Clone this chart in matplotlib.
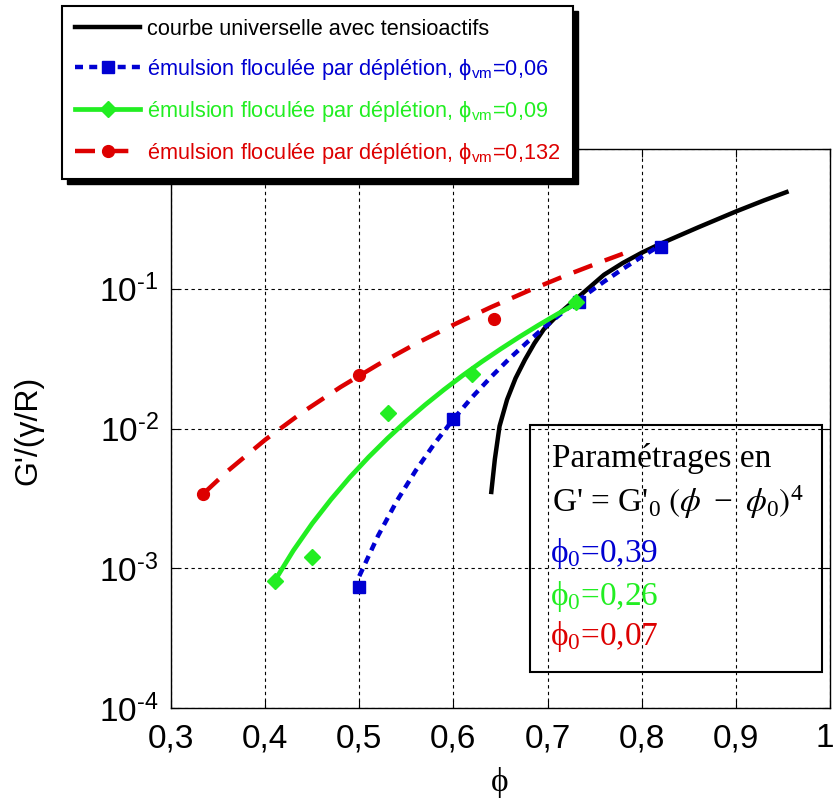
import matplotlib
matplotlib.use("Agg")
import matplotlib.pyplot as plt
import matplotlib.transforms as mtransforms
from matplotlib.lines import Line2D
from matplotlib.patches import Rectangle

plt.rcParams['font.family'] = ['Liberation Sans', 'DejaVu Sans']
plt.rcParams['mathtext.fontset'] = 'stix'
plt.rcParams['mathtext.default'] = 'regular'

# ---------------- data ----------------
univ_x = [0.640, 0.644, 0.649, 0.657, 0.666, 0.676, 0.686, 0.696, 0.712, 0.730,
          0.760, 0.780, 0.800, 0.820, 0.860, 0.900, 0.930, 0.956]
univ_y = [0.00339, 0.00603, 0.0104, 0.0161, 0.0229, 0.0311, 0.0407, 0.0513, 0.0661,
          0.0841, 0.126, 0.153, 0.181, 0.210, 0.275, 0.357, 0.429, 0.498]

blue_pts_x = [0.50, 0.60, 0.733, 0.82]
blue_pts_y = [7.3e-4, 0.0117, 0.080, 0.200]
blue_fit_x = [0.50, 0.52, 0.54, 0.56, 0.58, 0.60, 0.62, 0.64, 0.66, 0.68, 0.70,
              0.72, 0.74, 0.76, 0.78, 0.80, 0.82]
blue_fit_y = [8.78e-4, 1.71e-3, 3.04e-3, 5.01e-3, 7.82e-3, 1.167e-2, 1.68e-2, 2.34e-2,
              3.19e-2, 4.24e-2, 5.54e-2, 7.12e-2, 9.00e-2, 0.1125, 0.1388, 0.1695, 0.205]

green_pts_x = [0.41, 0.45, 0.53, 0.62, 0.73]
green_pts_y = [8.1e-4, 1.21e-3, 0.0129, 0.0247, 0.081]
green_fit_x = [0.41, 0.43, 0.45, 0.47, 0.49, 0.51, 0.53, 0.55, 0.57, 0.59, 0.61,
               0.63, 0.65, 0.67, 0.69, 0.71, 0.73]
green_fit_y = [8.1e-4, 1.34e-3, 2.09e-3, 3.11e-3, 4.48e-3, 6.25e-3, 8.50e-3, 1.132e-2,
               1.478e-2, 1.897e-2, 2.401e-2, 3.00e-2, 3.70e-2, 4.52e-2, 5.47e-2,
               6.56e-2, 7.81e-2]

red_pts_x = [0.334, 0.50, 0.643]
red_pts_y = [3.4e-3, 0.024, 0.061]
red_fit_x = [0.335, 0.36, 0.40, 0.44, 0.48, 0.52, 0.56, 0.60, 0.64, 0.68, 0.72, 0.76, 0.78]
red_fit_y = [3.45e-3, 4.95e-3, 8.30e-3, 1.312e-2, 1.978e-2, 2.87e-2, 4.04e-2, 5.52e-2,
             7.39e-2, 9.69e-2, 0.125, 0.1587, 0.178]

x_ticks = [0.3, 0.4, 0.5, 0.6, 0.7, 0.8, 0.9, 1.0]
x_tick_labels = ['0,3', '0,4', '0,5', '0,6', '0,7', '0,8', '0,9', '1']
y_ticks = [1e-4, 1e-3, 1e-2, 1e-1, 1e0]
# the 10^0 label sits hidden under the legend in the reference
y_tick_labels = ['$\\mathregular{10^{\u2010' + e + '}}$' for e in ['4', '3', '2', '1']] + ['']

labels = ['courbe universelle avec tensioactifs',
          'émulsion floculée par déplétion, ϕ$_{\\mathregular{vm}}$=0,06',
          'émulsion floculée par déplétion, ϕ$_{\\mathregular{vm}}$=0,09',
          'émulsion floculée par déplétion, ϕ$_{\\mathregular{vm}}$=0,132']
phi0_labels = ['ϕ$_0$=0,39', 'ϕ$_0$=0,26', 'ϕ$_0$=0,07']

BLUE = '#0000D2'
GREEN = '#22EE22'
RED = '#DD0000'

# ---------------- figure ----------------
W, H = 837, 807
fig = plt.figure(figsize=(W / 100, H / 100), dpi=100)
ax = fig.add_axes([171 / W, 1 - 708 / H, (830 - 171) / W, (708 - 149) / H])
ax.set_yscale('log')
ax.set_xlim(0.3, 1.0)
ax.set_ylim(1e-4, 1e0)

ax.plot(univ_x, univ_y, color='black', lw=3.2, solid_capstyle='butt',
        solid_joinstyle='round', zorder=3)
ax.plot(blue_fit_x, blue_fit_y, color=BLUE, lw=3.2, ls=(0, (1.8, 1.4)), zorder=4)
ax.plot(blue_pts_x, blue_pts_y, ls='none', marker='s', ms=8.5, color=BLUE, zorder=4)
ax.plot(green_fit_x, green_fit_y, color=GREEN, lw=3.4, zorder=5)
ax.plot(green_pts_x, green_pts_y, ls='none', marker='D', ms=8, color=GREEN, zorder=5)
ax.plot(red_fit_x, red_fit_y, color=RED, lw=3.2, ls=(0, (4.5, 3)), zorder=6)
ax.plot(red_pts_x, red_pts_y, ls='none', marker='o', ms=8.5, color=RED, zorder=6)

ax.set_xticks(x_ticks)
ax.set_xticklabels(x_tick_labels)
ax.set_yticks(y_ticks)
ax.set_yticklabels(y_tick_labels)
ax.yaxis.set_minor_locator(matplotlib.ticker.NullLocator())
ax.tick_params(direction='in', length=6, width=0.8, top=True, right=True,
               labelsize=24, pad=9)
ax.tick_params(axis='x', pad=11)
ax.grid(True, which='major', color='black', lw=0.8, ls=(0, (3, 3)))
for s in ax.spines.values():
    s.set_linewidth(1.0)

# keep the last x label ("1") inside the canvas
last = ax.get_xticklabels()[-1]
last.set_transform(last.get_transform() +
                   mtransforms.ScaledTranslation(-5 / 100, 0, fig.dpi_scale_trans))

fig.text(28 / W, 1 - 430 / H, "G'/(γ/R)", rotation=90, ha='center', va='center',
         fontsize=23)
fig.text(500 / W, 1 - 783 / H, 'ϕ', ha='center', va='center', fontsize=24,
         family=['Liberation Serif', 'DejaVu Serif'])

# legend
handles = [
    Line2D([], [], color='black', lw=3.2),
    Line2D([], [], color=BLUE, lw=3.2, ls=(0, (1.8, 1.4)), marker='s', ms=8.5),
    Line2D([], [], color=GREEN, lw=3.4, marker='D', ms=8),
    Line2D([], [], color=RED, lw=3.2, ls=(0, (4.5, 3)), marker='o', ms=8.5),
]
leg = fig.legend(handles, labels, loc='upper left',
                 bbox_to_anchor=(62 / W, 1 - 6 / H), bbox_transform=fig.transFigure,
                 borderaxespad=0, fontsize=15.7, handlelength=3.0, handletextpad=0.3,
                 labelspacing=0.78, borderpad=0.6, numpoints=1, fancybox=False,
                 framealpha=1, edgecolor='black', shadow=False)
leg.get_frame().set_linewidth(1.5)
leg.set_zorder(20)
for t, c in zip(leg.get_texts(), ['black', BLUE, GREEN, RED]):
    t.set_color(c)

# solid black drop shadow behind the legend
fig.canvas.draw()
bb = leg.get_window_extent().transformed(fig.transFigure.inverted())
off_x, off_y = 5 / W, 5 / H
fig.add_artist(Rectangle((bb.x0 + off_x, bb.y0 - off_y), bb.width, bb.height,
                         transform=fig.transFigure, facecolor='black',
                         edgecolor='black', zorder=19))

# parameter box
fig.add_artist(Rectangle((530 / W, 1 - 672 / H), (822 - 530) / W, (672 - 425) / H,
                         transform=fig.transFigure, fill=False, edgecolor='black',
                         lw=1.5, zorder=10))
serif = ['Liberation Serif', 'DejaVu Serif']
fig.text(552 / W, 1 - 467 / H, 'Paramétrages en', fontsize=24, family=serif,
         ha='left', va='baseline')
fig.text(552 / W, 1 - 512 / H,
         "G' = G'$_{0}$ $\\left(\\mathit{\\phi}\\ -\\ \\mathit{\\phi}_{0}\\right)^{4}$",
         fontsize=24, family=serif, ha='left', va='baseline')
for lab, c, yb in zip(phi0_labels, [BLUE, GREEN, RED], [562, 605, 645]):
    fig.text(550 / W, 1 - yb / H, lab, fontsize=24, family=serif, color=c,
             ha='left', va='baseline')

fig.savefig('out.png', dpi=100)
